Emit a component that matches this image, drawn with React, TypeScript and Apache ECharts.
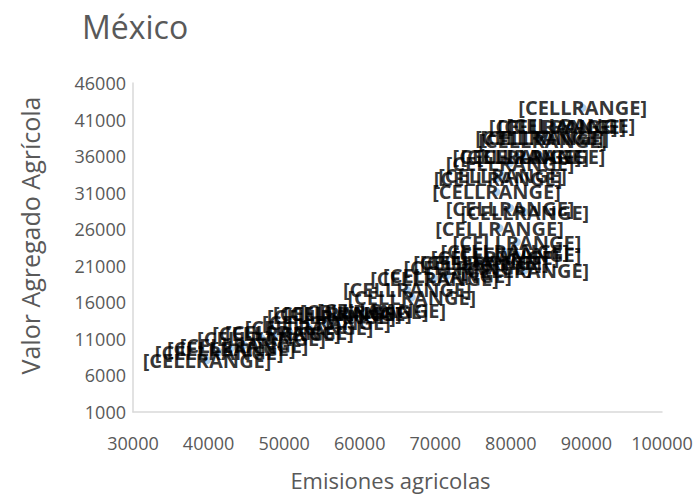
import React, { useEffect, useRef } from "react";
import * as echarts from "echarts";

const titleText = "México";
const xAxisName = "Emisiones agricolas";
const yAxisName = "Valor Agregado Agrícola";
const pointLabel = "[CELLRANGE]";

const emisiones = [
  39800, 41400, 43000, 44700, 47000, 49000, 50700, 53300, 55600, 56250,
  57050, 58400, 60600, 62900, 66900, 66300, 69900, 71600, 81850, 74300,
  75600, 76500, 77900, 80800, 79200, 80800, 78500, 81850, 79900, 78100,
  78300, 78900, 79900, 80800, 81850, 84000, 83800, 84200, 84500, 85600,
  86750, 87950, 89500,
];
const valorAgregado = [
  8100, 9200, 9750, 10150, 11100, 11800, 11900, 12500, 13200, 14000,
  14500, 14500, 14700, 14950, 16700, 17700, 19300, 19700, 20400, 20700,
  21400, 21500, 22200, 22500, 22900, 24250, 26150, 28350, 28900, 31100,
  33000, 33400, 35050, 35900, 35900, 35900, 38500, 38200, 38600, 40000,
  40000, 40250, 42600,
];
const yTickValues = [1000, 6000, 11000, 16000, 21000, 26000, 31000, 36000, 41000, 46000];

const FONT = "'Open Sans', 'Noto Sans', sans-serif";

export default function App() {
  const ref = useRef<HTMLDivElement>(null);
  useEffect(() => {
    if (!ref.current) return;
    const chart = echarts.init(ref.current, undefined, { renderer: "svg" });
    const data = emisiones.map((x, i) => [x, valorAgregado[i]]);
    const plain = (v: number) => String(v);
    chart.setOption({
      animation: false,
      backgroundColor: "#ffffff",
      textStyle: { fontFamily: FONT },
      title: {
        text: titleText,
        left: 77,
        top: 5,
        textStyle: { fontFamily: FONT, fontSize: 32, fontWeight: "normal", color: "#595959" },
      },
      grid: { left: 133, right: 38, top: 83, bottom: 85, containLabel: false },
      xAxis: {
        type: "value",
        min: 30000,
        max: 100000,
        interval: 10000,
        name: xAxisName,
        nameLocation: "middle",
        nameGap: 57,
        nameTextStyle: {
          fontFamily: FONT,
          fontSize: 22,
          color: "#595959",
          padding: [0, 14, 0, 0],
        },
        axisLine: { show: true, lineStyle: { color: "#d9d9d9", width: 1.5 } },
        axisTick: { show: false },
        splitLine: { show: false },
        axisLabel: { margin: 22, fontFamily: FONT, fontSize: 18, color: "#595959", formatter: plain },
      },
      yAxis: {
        type: "value",
        min: 1000,
        max: 46000,
        name: yAxisName,
        nameLocation: "middle",
        nameGap: 91,
        nameTextStyle: {
          fontFamily: FONT,
          fontSize: 25,
          color: "#595959",
          padding: [0, 0, 0, 24],
        },
        axisLine: { show: true, lineStyle: { color: "#d9d9d9", width: 1.5 } },
        axisTick: { show: false },
        splitLine: { show: false },
        axisLabel: {
          margin: 7,
          fontFamily: FONT,
          fontSize: 18,
          color: "#595959",
          formatter: plain,
          customValues: yTickValues,
        },
      },
      series: [
        {
          type: "scatter",
          data,
          symbol: "circle",
          symbolSize: 8,
          itemStyle: { color: "#9dc3e6" },
          label: {
            show: true,
            position: "inside",
            formatter: () => pointLabel,
            fontFamily: FONT,
            fontSize: 20,
            fontWeight: "bold",
            color: "#000000",
          },
          emphasis: { disabled: true },
        },
      ],
    });
    return () => chart.dispose();
  }, []);
  return (
    <div
      ref={ref}
      style={{ position: "fixed", left: 0, top: 0, width: 700, height: 497, background: "#fff" }}
    />
  );
}
